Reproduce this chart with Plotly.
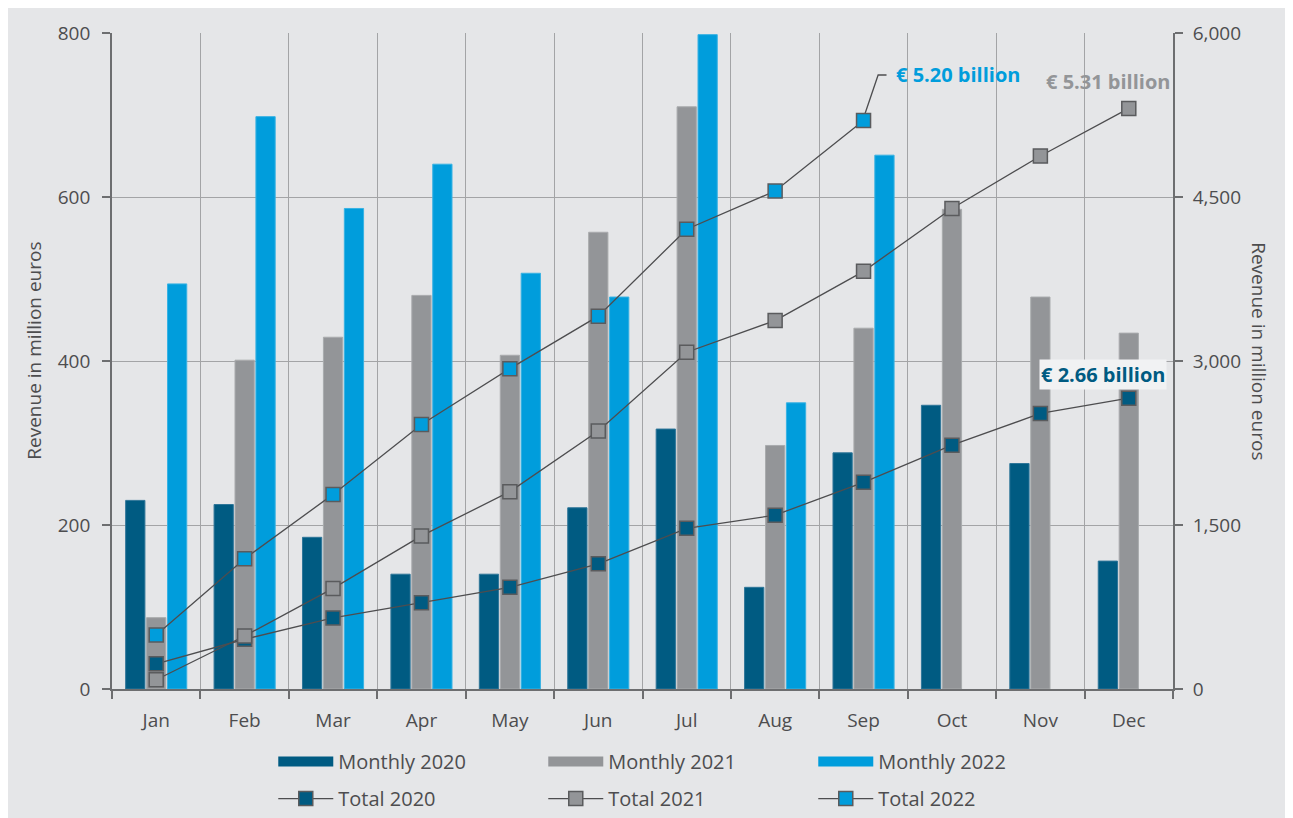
import plotly.graph_objects as go

months = ["Jan", "Feb", "Mar", "Apr", "May", "Jun", "Jul", "Aug", "Sep", "Oct", "Nov", "Dec"]

monthly_2020 = [230, 225, 185, 140, 140, 221, 317, 124, 288, 346, 275, 156]
monthly_2021 = [87, 401, 429, 480, 407, 557, 710, 297, 440, 585, 478, 434]
monthly_2022 = [494, 698, 586, 640, 507, 478, 798, 349, 651]

total_2020 = [230, 455, 650, 790, 930, 1145, 1470, 1590, 1890, 2230, 2520, 2660]
total_2021 = [85, 485, 920, 1400, 1805, 2360, 3080, 3370, 3820, 4395, 4875, 5310]
total_2022 = [494, 1192, 1780, 2420, 2930, 3410, 4205, 4555, 5200]

left_ticks = [0, 200, 400, 600, 800]
right_ticks = [0, 1500, 3000, 4500, 6000]
right_tick_labels = ["0", "1,500", "3,000", "4,500", "6,000"]

C_DARK = "#005b82"
C_GRAY = "#939598"
C_BLUE = "#009ddc"
BG = "#e5e6e8"
TXT = "#4d4d4f"
FONT = "Open Sans"

fig = go.Figure()

bar_specs = [
    ("Monthly 2020", monthly_2020, C_DARK, "#2f7699"),
    ("Monthly 2021", monthly_2021, C_GRAY, "#a9abad"),
    ("Monthly 2022", monthly_2022, C_BLUE, "#38b2e3"),
]
for name, vals, col, lcol in bar_specs:
    fig.add_trace(go.Bar(
        x=months[:len(vals)], y=vals, name=name,
        marker=dict(color=col, line=dict(color=lcol, width=1)),
        showlegend=False, yaxis="y", offsetgroup=name,
    ))
# legend keys for the bars (wide rectangles as in the original)
for name, vals, col, lcol in bar_specs:
    fig.add_trace(go.Scatter(
        x=[None], y=[None], name=name, mode="lines",
        line=dict(color=col, width=15), legend="legend", yaxis="y",
    ))

line_specs = [
    ("Total 2020", total_2020, C_DARK),
    ("Total 2021", total_2021, C_GRAY),
    ("Total 2022", total_2022, C_BLUE),
]
for name, vals, col in line_specs:
    fig.add_trace(go.Scatter(
        x=months[:len(vals)], y=vals, name=name, mode="lines+markers",
        line=dict(color="#4d4d4f", width=1.3),
        marker=dict(symbol="square", size=14, color=col,
                    line=dict(color="#5a5b5d", width=1.5)),
        legend="legend2", yaxis="y2",
    ))

# value call-outs
fig.add_annotation(x=8.35, y=5616, xref="x", yref="y2", text="<b>€ 5.20 billion</b>",
                   showarrow=False, xanchor="left", yanchor="middle",
                   font=dict(family=FONT, size=20, color=C_BLUE))
fig.add_shape(type="path", xref="x", yref="y2",
              path="M 8,5222 L 8.165,5616 L 8.26,5616",
              line=dict(color="#4d4d4f", width=1.3), layer="below")
fig.add_annotation(x=10.04, y=5560, xref="x", yref="y2", text="<b>€ 5.31 billion</b>",
                   showarrow=False, xanchor="left", yanchor="middle",
                   font=dict(family=FONT, size=20, color=C_GRAY))
fig.add_annotation(x=9.98, y=2872, xref="x", yref="y2", text="<b>€ 2.66 billion</b>",
                   showarrow=False, xanchor="left", yanchor="middle",
                   bgcolor="#f1f2f3", borderpad=1,
                   font=dict(family=FONT, size=20, color=C_DARK))

# axis titles
fig.add_annotation(x=-0.073, y=0.515, xref="paper", yref="paper", text="Revenue in million euros",
                   textangle=-90, showarrow=False, xanchor="center", yanchor="middle",
                   font=dict(family=FONT, size=19, color=TXT))
fig.add_annotation(x=1.081, y=0.515, xref="paper", yref="paper", text="Revenue in million euros",
                   textangle=90, showarrow=False, xanchor="center", yanchor="middle",
                   font=dict(family=FONT, size=19, color=TXT))

axis_col = "#6d6e70"
grid_col = "#a3a4a6"

fig.update_layout(
    width=1277, height=810,
    margin=dict(l=104, r=112, t=25, b=129),
    paper_bgcolor=BG, plot_bgcolor=BG,
    font=dict(family=FONT, size=18, color=TXT),
    barmode="group", bargap=0.29, bargroupgap=0.08,
    xaxis=dict(
        type="category", categoryorder="array", categoryarray=months,
        tickson="boundaries", ticks="outside", ticklen=8, tickcolor=axis_col, tickwidth=1.5,
        showgrid=True, gridcolor=grid_col, gridwidth=1.3,
        showline=True, linecolor=axis_col, linewidth=1.8, automargin=False,
        range=[-0.5, 11.5], tickfont=dict(size=19, color=TXT), ticklabelstandoff=13,
    ),
    yaxis=dict(
        range=[0, 800], tickvals=left_ticks, ticks="outside", ticklen=8,
        tickcolor=axis_col, tickwidth=1.5, automargin=False,
        showgrid=True, gridcolor=grid_col, gridwidth=1.3,
        showline=True, linecolor=axis_col, linewidth=1.8, zeroline=False,
        tickfont=dict(size=19, color=TXT), ticklabelstandoff=8,
    ),
    yaxis2=dict(
        range=[0, 6000], tickvals=right_ticks, ticktext=right_tick_labels,
        overlaying="y", side="right", ticks="outside", ticklen=8,
        tickcolor=axis_col, tickwidth=1.5, showgrid=False, automargin=False,
        showline=True, linecolor=axis_col, linewidth=1.8, zeroline=False,
        tickfont=dict(size=19, color=TXT), ticklabelstandoff=6,
    ),
    legend=dict(orientation="h", x=0.152, y=0.0938, yref="container",
                xanchor="left", yanchor="top",
                entrywidth=200, entrywidthmode="pixels", itemwidth=55,
                bgcolor="rgba(0,0,0,0)", font=dict(size=20, color=TXT)),
    legend2=dict(orientation="h", x=0.152, y=0.048, yref="container",
                 xanchor="left", yanchor="top",
                 entrywidth=200, entrywidthmode="pixels", itemwidth=55,
                 bgcolor="rgba(0,0,0,0)", font=dict(size=20, color=TXT)),
)

fig.write_html("out.html")
